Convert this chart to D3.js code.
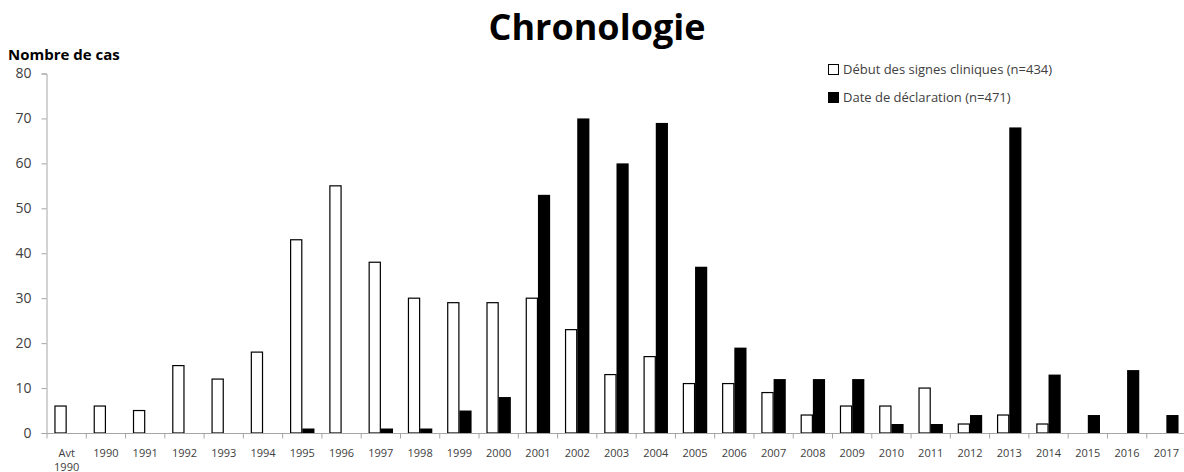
<!DOCTYPE html>
<html>
<head>
<meta charset="utf-8">
<script src="https://cdn.jsdelivr.net/npm/d3@7"></script>
<style>
  html, body { margin: 0; padding: 0; background: #fff; }
  svg { display: block; font-family: "Open Sans", "Noto Sans", sans-serif; }
</style>
</head>
<body>
<svg id="chart" width="1184" height="472"></svg>
<script>
// Categories on the x axis (first label wraps on two lines)
const categories = ["Avt 1990", "1990", "1991", "1992", "1993", "1994", "1995", "1996", "1997", "1998",
  "1999", "2000", "2001", "2002", "2003", "2004", "2005", "2006", "2007", "2008",
  "2009", "2010", "2011", "2012", "2013", "2014", "2015", "2016", "2017"];

// Onset of clinical signs (n=434)
const debutSignes = [6, 6, 5, 15, 12, 18, 43, 55, 38, 30,
  29, 29, 30, 23, 13, 17, 11, 11, 9, 4,
  6, 6, 10, 2, 4, 2, 0, 0, 0];

// Declaration date (n=471)
const dateDeclaration = [0, 0, 0, 0, 0, 0, 1, 0, 1, 1,
  5, 8, 53, 70, 60, 69, 37, 19, 12, 12,
  12, 2, 2, 4, 68, 13, 4, 14, 4];

const seriesNames = ["Début des signes cliniques (n=434)", "Date de déclaration (n=471)"];
const yTicks = [0, 10, 20, 30, 40, 50, 60, 70, 80];

const svg = d3.select("#chart");
const axisColor = "#a6a6a6";
const labelColor = "#404040";

const x0 = d3.scaleBand().domain(categories).range([47, 1186]).paddingInner(0.38).paddingOuter(0.19);
const x1 = d3.scaleBand().domain([0, 1]).range([0, x0.bandwidth()]);
const y = d3.scaleLinear().domain([0, 80]).range([433, 73.5]);

// Title
svg.append("text").attr("x", 597).attr("y", 40).attr("text-anchor", "middle")
  .attr("font-size", 36).attr("font-weight", 700).attr("fill", "#000").text("Chronologie");

// Y axis title
svg.append("text").attr("x", 8).attr("y", 60)
  .attr("font-size", 15).attr("font-weight", 700).attr("fill", "#000").text("Nombre de cas");

// Y axis
const yAxis = svg.append("g").attr("transform", "translate(46.5,0)")
  .call(d3.axisLeft(y).tickValues(yTicks).tickSize(5).tickPadding(10));
yAxis.select(".domain").attr("stroke", axisColor);
yAxis.selectAll(".tick line").attr("stroke", axisColor);
yAxis.selectAll(".tick text").attr("font-size", 14).attr("fill", labelColor)
  .attr("font-family", "\"Open Sans\", sans-serif");

// Bars
const groups = svg.append("g").selectAll("g").data(categories).join("g")
  .attr("transform", d => `translate(${x0(d)},0)`);

groups.append("rect")
  .attr("x", x1(0) + 0.5)
  .attr("y", (d, i) => y(debutSignes[i]))
  .attr("width", x1.bandwidth() - 1)
  .attr("height", (d, i) => y(0) - y(debutSignes[i]))
  .attr("fill", "#fff").attr("stroke", "#000").attr("stroke-width", 1.2)
  .attr("display", (d, i) => debutSignes[i] > 0 ? null : "none");

groups.append("rect")
  .attr("x", x1(1))
  .attr("y", (d, i) => y(dateDeclaration[i]))
  .attr("width", x1.bandwidth())
  .attr("height", (d, i) => y(0) - y(dateDeclaration[i]))
  .attr("fill", "#000")
  .attr("display", (d, i) => dateDeclaration[i] > 0 ? null : "none");

// X axis with ticks between categories
const xAxisG = svg.append("g").attr("transform", `translate(0,${y(0) + 0.5})`);
xAxisG.append("line").attr("x1", 46).attr("x2", 1186).attr("stroke", axisColor);
const step = x0.step();
const boundaries = d3.range(categories.length + 1).map(i => 47 + i * step);
xAxisG.selectAll("line.tk").data(boundaries).join("line").attr("class", "tk")
  .attr("x1", d => d).attr("x2", d => d).attr("y1", 0).attr("y2", 5).attr("stroke", axisColor);

const xl = xAxisG.selectAll("text").data(categories).join("text")
  .attr("x", d => x0(d) + x0.bandwidth() / 2)
  .attr("y", 23)
  .attr("text-anchor", "middle")
  .attr("font-size", 11).attr("fill", labelColor);
xl.each(function(d) {
  const parts = d.split(" ");
  const t = d3.select(this);
  parts.forEach((p, k) => {
    t.append("tspan").attr("x", x0(d) + x0.bandwidth() / 2).attr("dy", k === 0 ? 0 : 14).text(p);
  });
});

// Legend
const legend = svg.append("g").attr("transform", "translate(828,74)");
seriesNames.forEach((name, i) => {
  const g = legend.append("g").attr("transform", `translate(0,${i * 28})`);
  g.append("rect").attr("x", 0.5).attr("y", -9.5).attr("width", 10).attr("height", 10)
    .attr("fill", i === 0 ? "#fff" : "#000").attr("stroke", "#000").attr("stroke-width", 1);
  g.append("text").attr("x", 15).attr("y", 0).attr("font-size", 13).attr("fill", labelColor)
    .text(name);
});
</script>
</body>
</html>
